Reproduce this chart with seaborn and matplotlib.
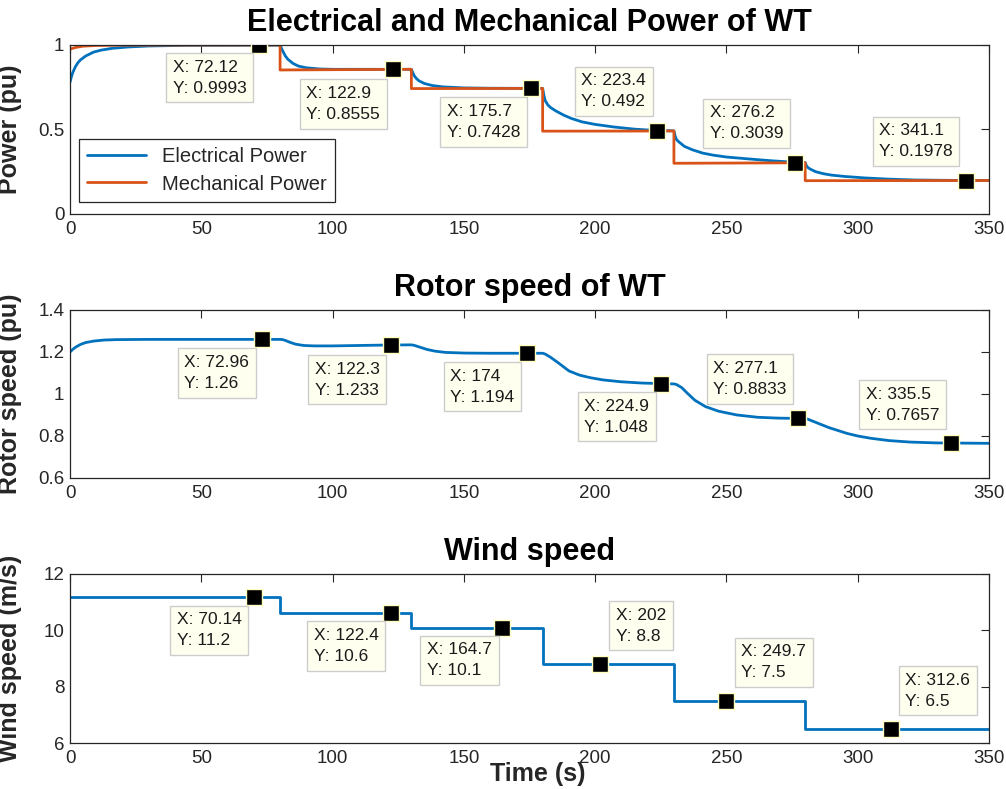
import numpy as np
import pandas as pd
import matplotlib
matplotlib.use('Agg')
import matplotlib.pyplot as plt
import seaborn as sns

# ---- data ----
elec_t = [0, 0.5, 1, 2, 3, 4, 6, 9, 12, 16, 22, 30, 45, 80,
          81, 82, 83, 85, 87, 90, 95, 100, 130,
          131, 132, 133, 135, 138, 142, 150, 160, 180,
          180.5, 181, 182, 183, 185, 188, 191, 195, 200, 207, 215, 223, 230,
          230.5, 231, 232, 234, 237, 241, 245, 250, 259, 267, 274, 280,
          280.5, 281, 282, 284, 287, 290, 295, 303, 312, 322, 335, 350]
elec_p = [0.78, 0.81, 0.835, 0.87, 0.895, 0.912, 0.935, 0.958, 0.97, 0.98, 0.988, 0.994, 0.998, 0.9993,
          0.965, 0.935, 0.915, 0.89, 0.875, 0.865, 0.858, 0.856, 0.856,
          0.82, 0.80, 0.787, 0.772, 0.76, 0.752, 0.746, 0.744, 0.743,
          0.70, 0.67, 0.645, 0.63, 0.61, 0.585, 0.565, 0.545, 0.53, 0.515, 0.502, 0.494, 0.492,
          0.46, 0.44, 0.425, 0.40, 0.38, 0.36, 0.348, 0.337, 0.325, 0.315, 0.308, 0.304,
          0.285, 0.275, 0.265, 0.25, 0.238, 0.23, 0.222, 0.213, 0.206, 0.201, 0.199, 0.198]

mech_t = [0, 2, 5, 10, 20, 80, 80, 90, 130, 130, 180, 180, 230, 230, 280, 280, 350]
mech_p = [0.975, 0.985, 0.993, 0.997, 0.999, 1.0, 0.852, 0.853, 0.856, 0.742, 0.743,
          0.49, 0.491, 0.30, 0.303, 0.197, 0.198]

rotor_t = [0, 1, 2, 4, 6, 9, 13, 18, 30, 80,
           81, 82, 84, 86, 89, 93, 100, 110, 120, 130,
           131, 133, 136, 139, 143, 150, 160, 180,
           181, 183, 186, 190, 194, 198, 203, 210, 218, 230,
           231, 233, 235, 238, 242, 247, 254, 262, 270, 280,
           281, 283, 286, 289, 292, 296, 300, 305, 312, 320, 330, 340, 350]
rotor_w = [1.2, 1.212, 1.222, 1.236, 1.245, 1.252, 1.257, 1.259, 1.26, 1.26,
           1.259, 1.255, 1.245, 1.237, 1.231, 1.229, 1.229, 1.231, 1.233, 1.234,
           1.232, 1.224, 1.212, 1.204, 1.198, 1.195, 1.194, 1.194,
           1.19, 1.175, 1.148, 1.11, 1.09, 1.078, 1.067, 1.058, 1.052, 1.048,
           1.045, 1.03, 1.005, 0.97, 0.94, 0.918, 0.90, 0.889, 0.885, 0.883,
           0.88, 0.87, 0.855, 0.84, 0.828, 0.812, 0.80, 0.789, 0.778, 0.771, 0.767, 0.766, 0.765]

wind_t = [0, 80, 130, 180, 230, 280, 350]
wind_v = [11.2, 10.6, 10.1, 8.8, 7.5, 6.5, 6.5]

# data tips
p_tip_x = [72.12, 122.9, 175.7, 223.4, 276.2, 341.1]
p_tip_y = [0.9993, 0.8555, 0.7428, 0.492, 0.3039, 0.1978]
r_tip_x = [72.96, 122.3, 174, 224.9, 277.1, 335.5]
r_tip_y = [1.26, 1.233, 1.194, 1.048, 0.8833, 0.7657]
w_tip_x = [70.14, 122.4, 164.7, 202, 249.7, 312.6]
w_tip_y = [11.2, 10.6, 10.1, 8.8, 7.5, 6.5]

# box top-left corner relative to the tip point (pixels, y downward)
p_box = [(-93, 8), (-93, 10), (-91, 9), (-82, -64), (-92, -64), (-93, -64)]
r_box = [(-84, 9), (-83, 10), (-83, 9), (-83, 8), (-91, -64), (-92, -63)]
w_box = [(-84, 9), (-84, 8), (-82, 8), (9, -63), (9, -63), (8, -63)]

BLUE = '#0072BD'
ORANGE = '#D95319'
DARK = '#262626'

sns.set_style('white')
plt.rcParams['font.family'] = ['Liberation Sans', 'DejaVu Sans']

fig = plt.figure(figsize=(10.06, 7.89), dpi=100)
ax1 = fig.add_axes([0.0696, 0.7288, 0.9135, 0.2142])
ax2 = fig.add_axes([0.0696, 0.3942, 0.9135, 0.2129])
ax3 = fig.add_axes([0.0696, 0.0583, 0.9135, 0.2142])

TIP_FS = 12.5
PAD = 0.38
pad_px = PAD * TIP_FS * 100 / 72


def add_tips(ax, xs, ys, boxes):
    sns.scatterplot(x=xs, y=ys, ax=ax, marker='s', s=120, color='black',
                    edgecolor='#FFFFC0', linewidth=1, zorder=5, legend=False)
    for x, y, (dx, dy) in zip(xs, ys, boxes):
        ax.annotate(f'X: {x:g}\nY: {y:g}', xy=(x, y),
                    xytext=(dx + pad_px, -(dy + pad_px)), textcoords='offset pixels',
                    ha='left', va='top', fontsize=TIP_FS, color='#1A1A1A', linespacing=1.5,
                    bbox=dict(boxstyle=f'square,pad={PAD}', fc='#FFFFEF', ec='#CCCCCC', lw=1),
                    zorder=6)


def style(ax, yticks, ylim, ylabel, title):
    ax.set_xlim(0, 350)
    ax.set_ylim(*ylim)
    ax.set_xticks(range(0, 351, 50))
    ax.set_yticks(yticks)
    ax.xaxis.set_major_formatter(matplotlib.ticker.FormatStrFormatter('%g'))
    ax.yaxis.set_major_formatter(matplotlib.ticker.FormatStrFormatter('%g'))
    ax.tick_params(direction='in', top=True, right=True, length=6, width=0.8,
                   colors=DARK, labelsize=13.5, labelcolor=DARK)
    ax.tick_params(axis='x', pad=5)
    ax.tick_params(axis='y', pad=4)
    for s in ax.spines.values():
        s.set_color(DARK)
        s.set_linewidth(0.9)
    ax.set_ylabel(ylabel, fontsize=18, fontweight='bold', color=DARK)
    ax.yaxis.set_label_coords(-0.052, 0.5)
    ax.set_title(title, fontsize=22, fontweight='bold', color='black', pad=10)
    ax.set_xlabel('')


# panel 1: power
sns.lineplot(x=elec_t, y=elec_p, ax=ax1, color=BLUE, lw=2, sort=False, estimator=None,
             label='Electrical Power')
sns.lineplot(x=mech_t, y=mech_p, ax=ax1, color=ORANGE, lw=2, sort=False, estimator=None,
             label='Mechanical Power')
style(ax1, [0, 0.5, 1], (0, 1), 'Power (pu)', 'Electrical and Mechanical Power of WT')
add_tips(ax1, p_tip_x, p_tip_y, p_box)
leg = ax1.legend(loc='lower left', bbox_to_anchor=(0.0098, 0.071), borderaxespad=0,
                 fontsize=14.5, fancybox=False, edgecolor=DARK, framealpha=1,
                 handlelength=2.9, labelspacing=0.4, borderpad=0.42)
leg.get_frame().set_linewidth(0.9)

# panel 2: rotor speed
sns.lineplot(x=rotor_t, y=rotor_w, ax=ax2, color=BLUE, lw=2, sort=False, estimator=None)
style(ax2, [0.6, 0.8, 1, 1.2, 1.4], (0.6, 1.4), 'Rotor speed (pu)', 'Rotor speed of WT')
add_tips(ax2, r_tip_x, r_tip_y, r_box)

# panel 3: wind speed
sns.lineplot(x=wind_t, y=wind_v, ax=ax3, color=BLUE, lw=2, sort=False, estimator=None,
             drawstyle='steps-post')
style(ax3, [6, 8, 10, 12], (6, 12), 'Wind speed (m/s)', 'Wind speed')
add_tips(ax3, w_tip_x, w_tip_y, w_box)
ax3.set_xlabel('Time (s)', fontsize=18, fontweight='bold', color=DARK)
ax3.xaxis.set_label_coords((538 - 70) / 919, (743 - 762) / 169)

fig.savefig('out.png', dpi=100)
